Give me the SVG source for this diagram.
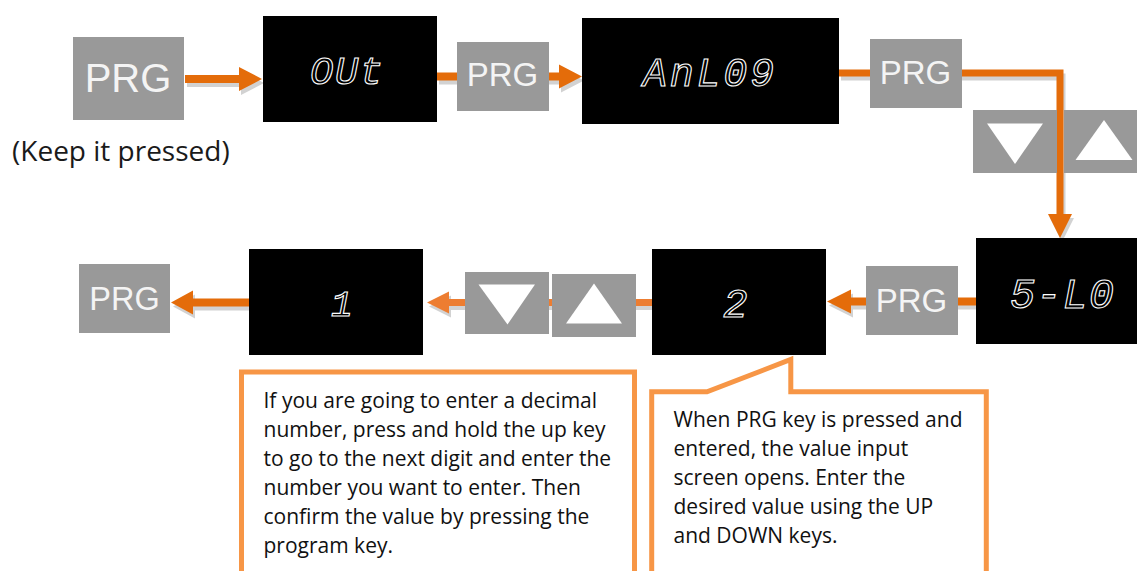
<svg xmlns="http://www.w3.org/2000/svg" width="1137" height="571" viewBox="0 0 1137 571">
<style>
.key{fill:#999999}
.keytxt{font-family:"Liberation Sans",Arial,sans-serif;fill:#f4f4f4;text-anchor:middle}
.disp{fill:#000000}
.seg{font-family:"Liberation Mono","DejaVu Sans Mono",monospace;font-style:italic;fill:none;stroke:#ffffff;stroke-width:1.1}
.tri{fill:#ffffff}
.arr{fill:#E46C0A}
.arr2{fill:#ED7D31}
.shadow{fill:#d2d2d2}
.note{fill:#ffffff;stroke:#F79646;stroke-width:5;stroke-linejoin:miter}
.notetxt{font-family:"Open Sans","Liberation Sans",sans-serif;font-size:21px;fill:#111111}
.label{font-family:"Open Sans","Liberation Sans",sans-serif;font-size:28px;fill:#1a1a1a}
</style>
<rect width="1137" height="571" fill="#ffffff"/>

<g id="connectors">
  <g class="shadow" transform="translate(2,4)">
    <polygon points="185,75 239,75 239,67 262,79 239,91 239,83 185,83"/>
    <polygon points="437,72.5 559,72.5 559,64.5 582,76.5 559,88.5 559,80.5 437,80.5"/>
    <polygon points="839,69.5 1063.5,69.5 1063.5,214 1072,214 1060,238 1048,214 1056.5,214 1056.5,76.5 839,76.5"/>
    <polygon points="976,297.5 851,297.5 851,289.5 827,301.5 851,313.5 851,305.5 976,305.5"/>
    <polygon points="652,299 449,299 449,291.5 427,302.5 449,313.5 449,306 652,306"/>
    <polygon points="249,298.5 193,298.5 193,290.5 171,302.5 193,314.5 193,306.5 249,306.5"/>
  </g>
  <polygon class="arr" points="185,75 239,75 239,67 262,79 239,91 239,83 185,83"/>
  <polygon class="arr" points="437,72.5 559,72.5 559,64.5 582,76.5 559,88.5 559,80.5 437,80.5"/>
  <polygon class="arr" points="839,69.5 1063.5,69.5 1063.5,214 1072,214 1060,238 1048,214 1056.5,214 1056.5,76.5 839,76.5"/>
  <polygon class="arr" points="976,297.5 851,297.5 851,289.5 827,301.5 851,313.5 851,305.5 976,305.5"/>
  <polygon class="arr2" points="652,299 449,299 449,291.5 427,302.5 449,313.5 449,306 652,306"/>
  <polygon class="arr" points="249,298.5 193,298.5 193,290.5 171,302.5 193,314.5 193,306.5 249,306.5"/>
</g>

<g id="prg1">
  <rect class="key" x="73" y="37" width="111" height="83"/>
  <text class="keytxt" x="128" y="92" font-size="40">PRG</text>
</g>
<g id="keep-label">
  <text class="label" x="12" y="161">(Keep it pressed)</text>
</g>
<g id="disp-out">
  <rect class="disp" x="263" y="16" width="174" height="106"/>
  <text class="seg" x="310" y="84" font-size="39" textLength="73" lengthAdjust="spacing">OUt</text>
</g>
<g id="prg2">
  <rect class="key" x="457" y="42" width="92" height="69"/>
  <text class="keytxt" x="502.5" y="86" font-size="33">PRG</text>
</g>
<g id="disp-anlog">
  <rect class="disp" x="582" y="18" width="257" height="106"/>
  <text class="seg" x="643" y="86" font-size="40" textLength="131" lengthAdjust="spacing">AnL09</text>
</g>
<g id="prg3">
  <rect class="key" x="870" y="39" width="92" height="69"/>
  <text class="keytxt" x="915.5" y="84" font-size="33">PRG</text>
</g>
<g id="down1">
  <rect class="key" x="973" y="110" width="84" height="63"/>
  <polygon class="tri" points="987,123.5 1043,123.5 1015,164"/>
</g>
<g id="up1">
  <rect class="key" x="1064" y="110" width="73" height="63"/>
  <polygon class="tri" points="1075.5,160 1132.5,160 1104,120"/>
</g>
<g id="disp-slo">
  <rect class="disp" x="976" y="238" width="174" height="106"/>
  <text class="seg" x="1010" y="308" font-size="42" textLength="104" lengthAdjust="spacing">5-L0</text>
</g>
<g id="prg4">
  <rect class="key" x="866" y="266" width="92" height="69"/>
  <text class="keytxt" x="911.5" y="311.5" font-size="33">PRG</text>
</g>
<g id="disp-2">
  <rect class="disp" x="652" y="249" width="174" height="106"/>
  <text class="seg" x="723" y="317" font-size="41">2</text>
</g>
<g id="up2">
  <rect class="key" x="552" y="274" width="84" height="63"/>
  <polygon class="tri" points="566,323.5 622,323.5 594,283.5"/>
</g>
<g id="down2">
  <rect class="key" x="465" y="272" width="84" height="62"/>
  <polygon class="tri" points="478.5,284.5 535,284.5 507.5,324.5"/>
</g>
<g id="disp-1">
  <rect class="disp" x="249" y="249" width="174" height="106"/>
  <text class="seg" x="331" y="316" font-size="36">1</text>
</g>
<g id="prg5">
  <rect class="key" x="79" y="264" width="91" height="69"/>
  <text class="keytxt" x="124.5" y="309.5" font-size="32.5">PRG</text>
</g>

<g id="note-decimal">
  <path class="note" d="M241.5,575 V372 H634.5 V575"/>
  <text class="notetxt">
    <tspan x="263.5" y="408">If you are going to enter a decimal</tspan>
    <tspan x="263.5" y="437">number, press and hold the up key</tspan>
    <tspan x="263.5" y="466">to go to the next digit and enter the</tspan>
    <tspan x="263.5" y="495">number you want to enter. Then</tspan>
    <tspan x="263.5" y="524">confirm the value by pressing the</tspan>
    <tspan x="263.5" y="553">program key.</tspan>
  </text>
</g>
<g id="note-value">
  <path class="note" d="M651.7,575 V391.8 H707 L790.8,359.5 V391.8 H986.3 V575"/>
  <text class="notetxt">
    <tspan x="673.5" y="427">When PRG key is pressed and</tspan>
    <tspan x="673.5" y="456">entered, the value input</tspan>
    <tspan x="673.5" y="485">screen opens. Enter the</tspan>
    <tspan x="673.5" y="514">desired value using the UP</tspan>
    <tspan x="673.5" y="543">and DOWN keys.</tspan>
  </text>
</g>
</svg>
